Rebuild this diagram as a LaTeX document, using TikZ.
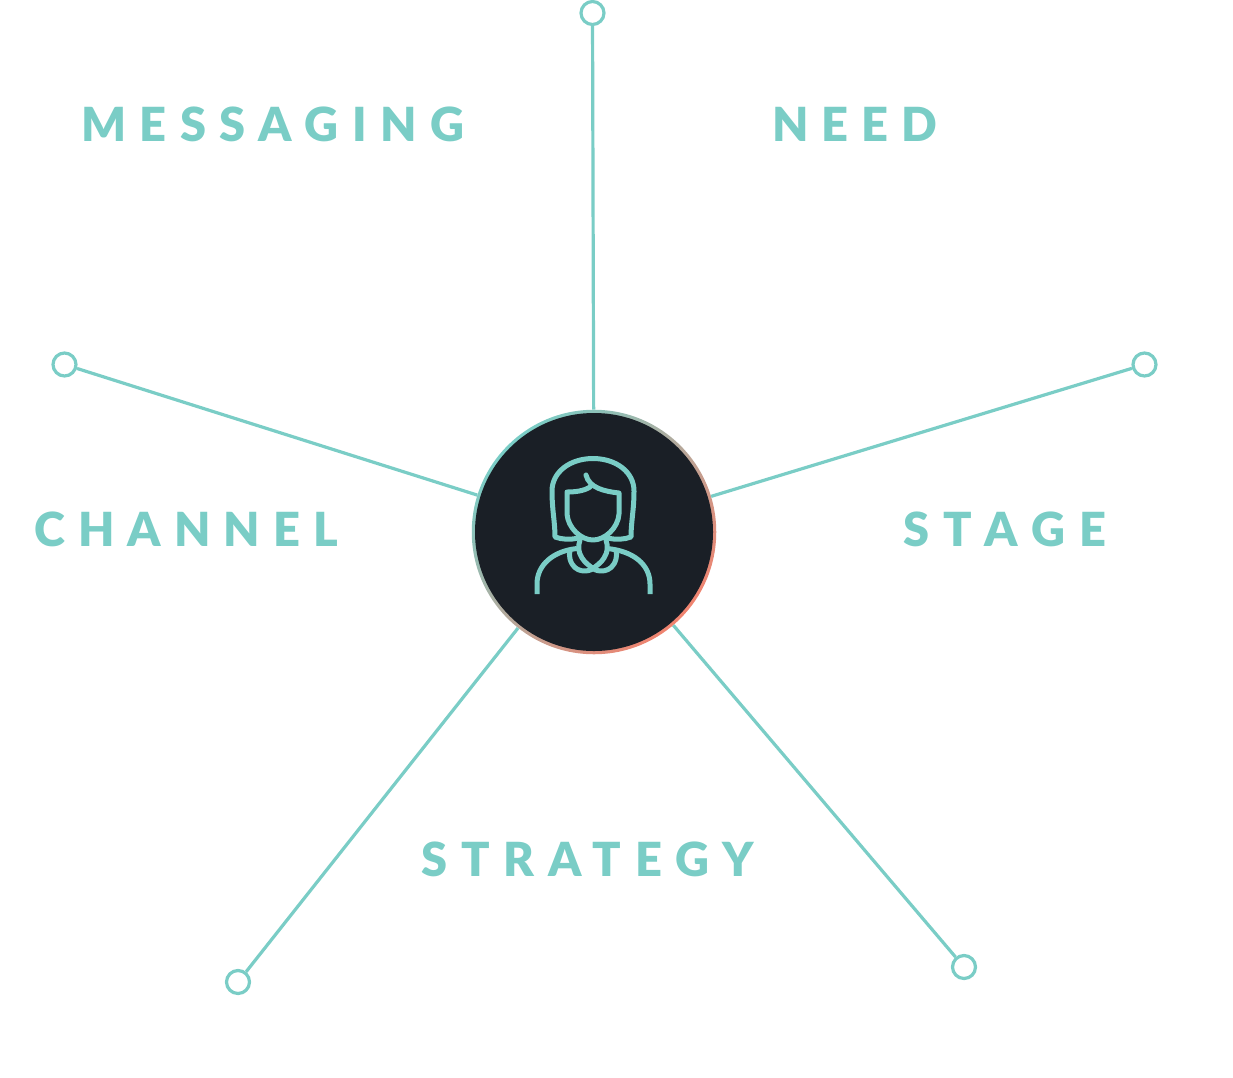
\documentclass[tikz,border=0pt]{standalone}
\usepackage{fontspec}
\setmainfont{Lato}
\newfontfamily\lblfont{Lato Black}
\definecolor{teal1}{HTML}{7ACDC6}
\definecolor{dark1}{HTML}{1A1F26}
\definecolor{salmon1}{HTML}{F0836F}
\tikzset{
  x=1pt,y=-1pt,
  spoke/.style={draw=teal1,line width=3.2pt},
  enddot/.style={circle,draw=teal1,fill=white,line width=3.2pt,minimum size=23pt,inner sep=0pt},
  ringnode/.style={circle,minimum size=244.5pt,inner sep=0pt,top color=teal1,bottom color=salmon1,shading angle=45},
  corenode/.style={circle,minimum size=238pt,inner sep=0pt,fill=dark1},
  lbl/.style={anchor=base west,inner sep=0pt,text=teal1,font=\lblfont\fontsize{47}{47}\selectfont},
  icon/.style={draw=teal1,line width=5pt,line cap=round,line join=round},
  iconb/.style={draw=teal1,line width=5pt,line cap=butt,line join=round}
}
\begin{document}
\begin{tikzpicture}
\useasboundingbox (0,0) rectangle (1233,1077);
\node[enddot] (d1) at (592.5,13) {};
\node[enddot] (d2) at (1144.5,364.5) {};
\node[enddot] (d3) at (964,967) {};
\node[enddot] (d4) at (238,982) {};
\node[enddot] (d5) at (64.5,364.5) {};
\node[ringnode] (hub) at (594,532) {};
\node[corenode] (core) at (594,532) {};
\draw[spoke] (hub) -- (d1);
\draw[spoke] (hub) -- (d2);
\draw[spoke] (hub) -- (d3);
\draw[spoke] (hub) -- (d4);
\draw[spoke] (hub) -- (d5);
% icon
\draw[icon] (578,538) .. controls (570,540) and (562,539.5) .. (555,537)
  .. controls (555,522) and (552,510) .. (552,491)
  .. controls (552,472) and (570,458.5) .. (593,458.5)
  .. controls (616,458.5) and (634,472) .. (634,491)
  .. controls (634,510) and (631,522) .. (631,537)
  .. controls (624,539.5) and (616,540) .. (608,538);
\draw[icon] (590,487) .. controls (584,491) and (575,492) .. (567,492) -- (567,514)
  .. controls (568,528) and (581,540) .. (593,540)
  .. controls (605,540) and (618,528) .. (619,514) -- (619,493)
  .. controls (605,491.5) and (589,488) .. (586,475);
\draw[icon] (580,540) .. controls (578,546) and (578,552) .. (582,558)
  .. controls (585,563) and (590,566) .. (593,568.5)
  .. controls (597,572) and (612,574) .. (616,559)
  .. controls (617,556) and (616.5,553) .. (616,550.5);
\draw[icon] (606,540) .. controls (608,546) and (608,552) .. (604,558)
  .. controls (601,563) and (596,566) .. (593,568.5)
  .. controls (589,572) and (574,574) .. (570,559)
  .. controls (569,556) and (569.5,553) .. (570,550.5);
\draw[iconb] (537,594) -- (537,584) .. controls (537,565) and (553,551) .. (577,548.5);
\draw[iconb] (650,594) -- (650,584) .. controls (650,565) and (634,551) .. (607,548.5);
% labels
\node[lbl] (t1) at (81,141) {\addfontfeature{LetterSpace=28.8}MESSAGING};
\node[lbl] (t2) at (772,141) {\addfontfeature{LetterSpace=27.6}NEED};
\node[lbl] (t3) at (34,546) {\addfontfeature{LetterSpace=27.8}CHANNEL};
\node[lbl] (t4) at (903,546) {\addfontfeature{LetterSpace=31.4}STAGE};
\node[lbl] (t5) at (421,876) {\addfontfeature{LetterSpace=29.7}STRATEGY};
\end{tikzpicture}
\end{document}
